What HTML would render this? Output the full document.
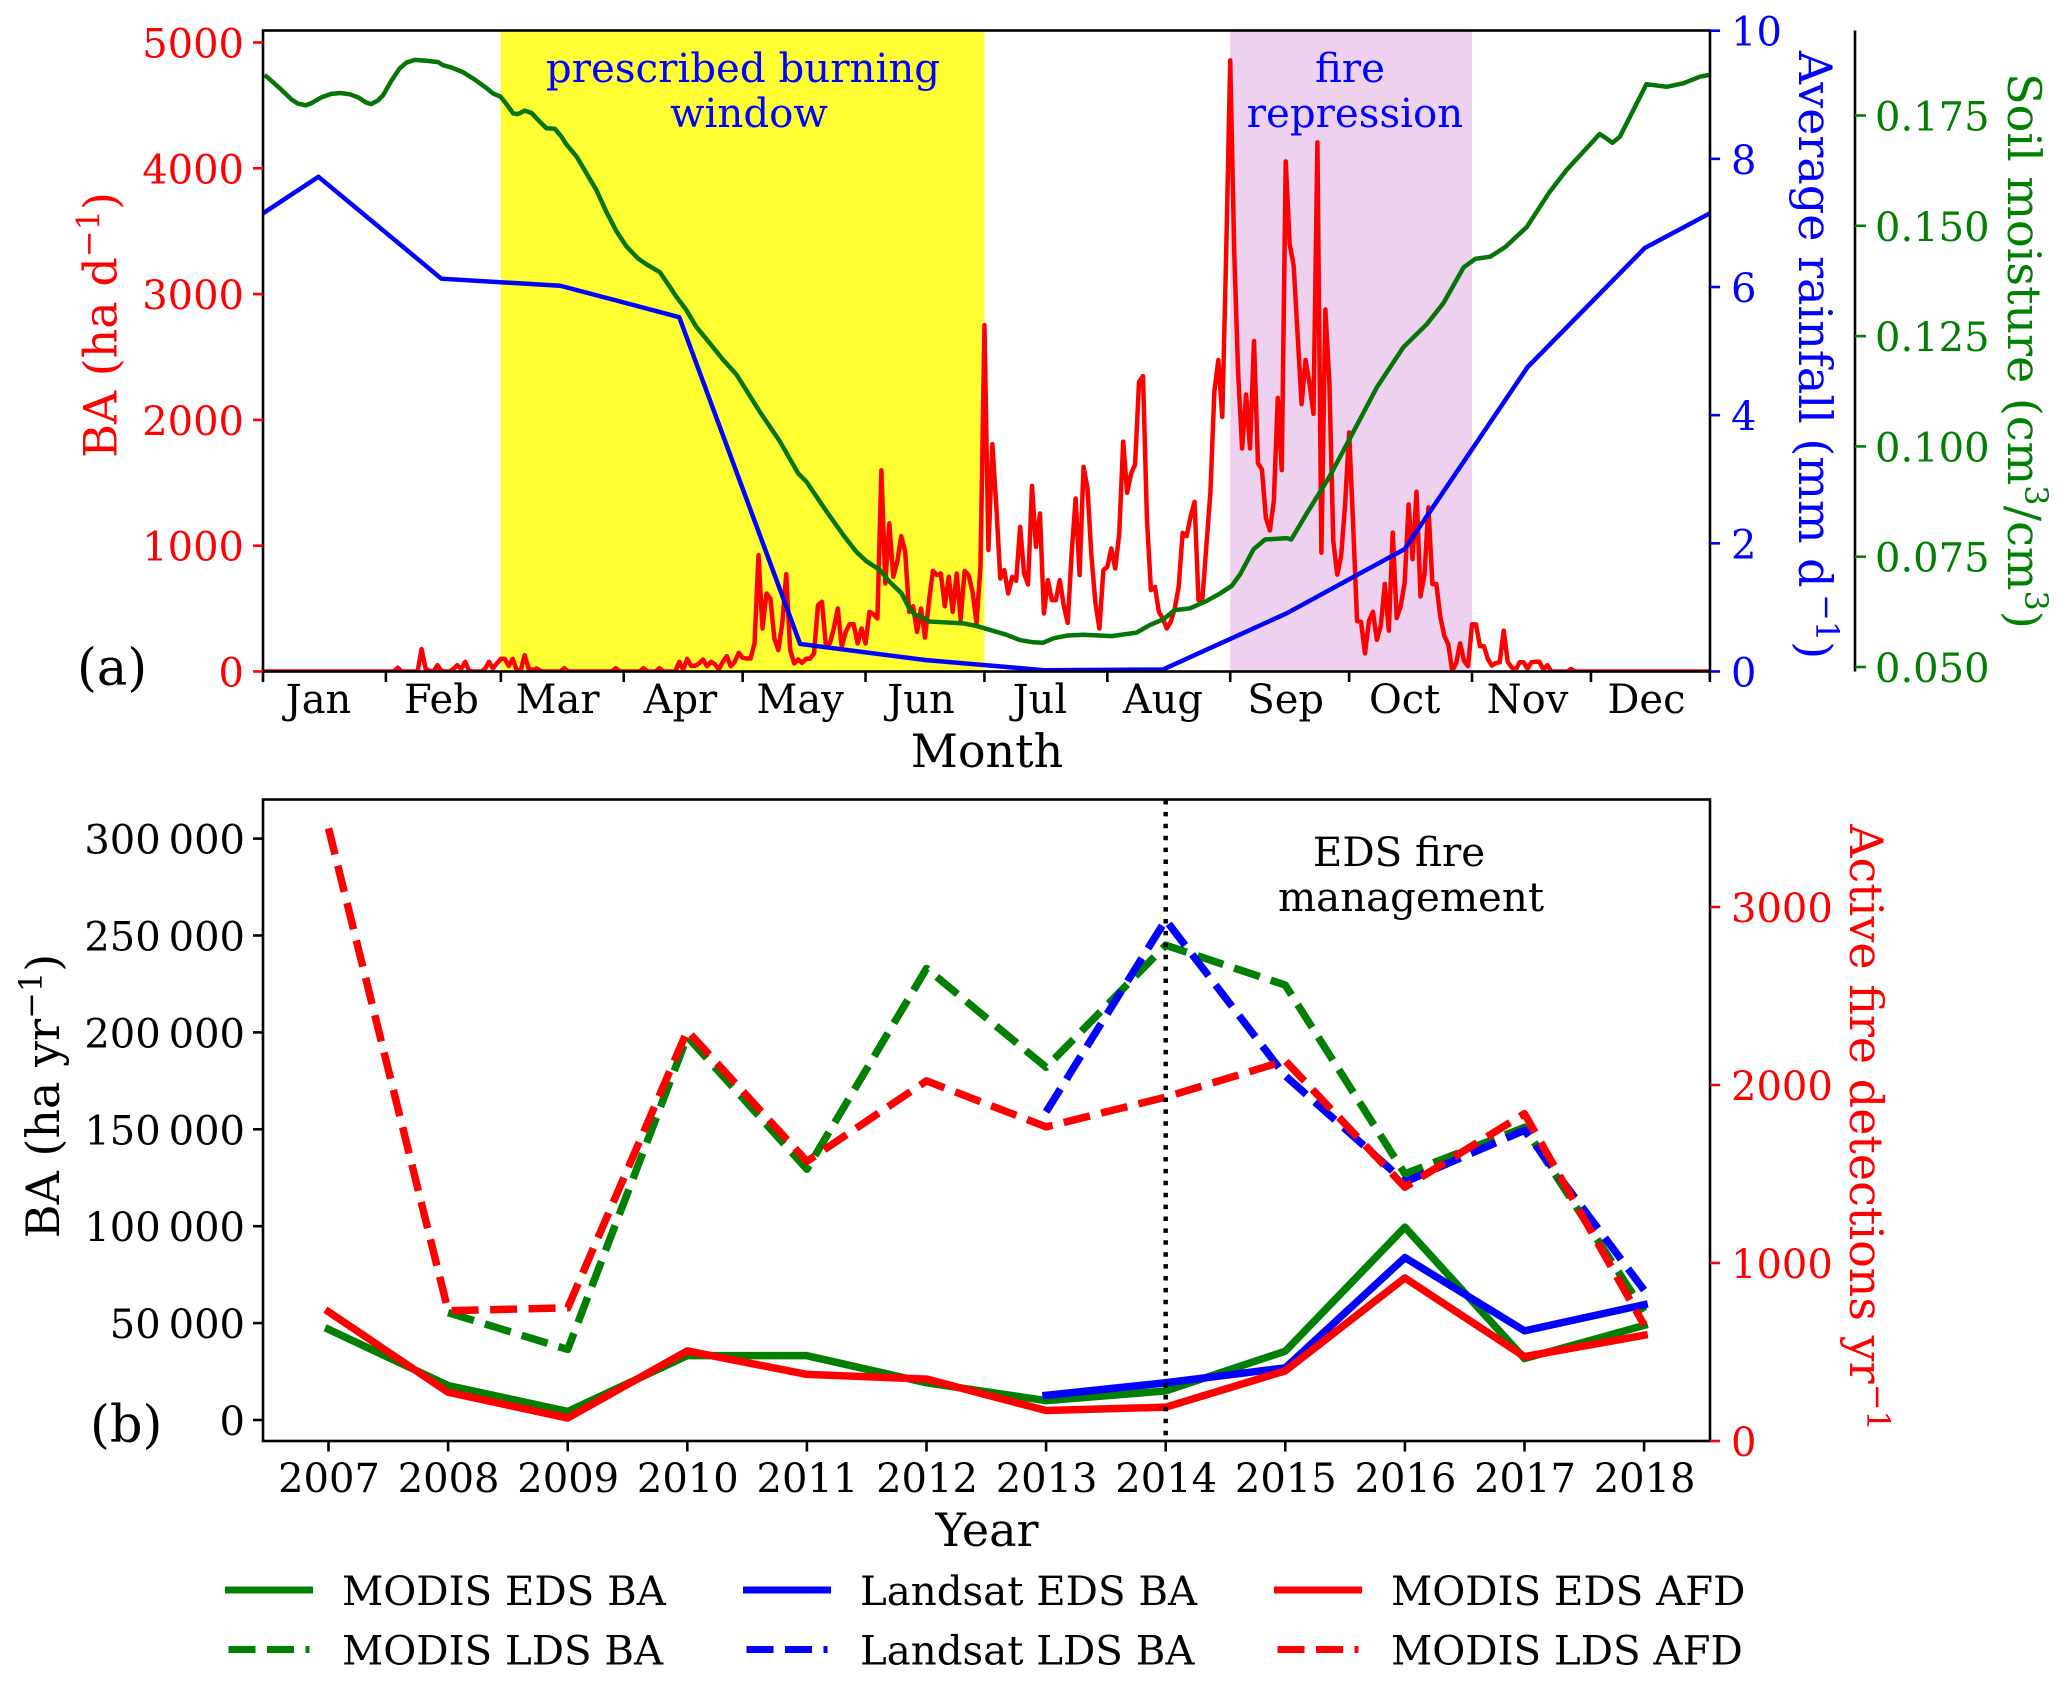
<!DOCTYPE html>
<html lang="en">
<head>
<meta charset="utf-8">
<title>Burned area, rainfall and soil moisture chart</title>
<style>
html,body{margin:0;padding:0;background:#fff}
svg{display:block}
text{font-family:"DejaVu Serif","Liberation Serif",serif}
</style>
</head>
<body>
<svg id="chart" xmlns="http://www.w3.org/2000/svg" width="2067" height="1682" viewBox="0 0 2067 1682">
<defs><clipPath id="clipA"><rect x="263" y="30.5" width="1447" height="641"/></clipPath></defs>
<rect x="0" y="0" width="2067" height="1682" fill="#fff"/>
<g id="panelA"></g>
<g id="panelB"></g>

<text x="743" y="82" font-size="40.3" fill="#0000ff" text-anchor="middle">prescribed burning</text>
<text x="749" y="127" font-size="40.3" fill="#0000ff" text-anchor="middle">window</text>
<text x="1350" y="82" font-size="40.3" fill="#0000ff" text-anchor="middle">fire</text>
<text x="1355" y="127" font-size="40.3" fill="#0000ff" text-anchor="middle">repression</text>

<text x="77" y="685" font-size="51" fill="#000">(a)</text>
<text x="90" y="1442" font-size="51" fill="#000">(b)</text>
<text x="987" y="767" font-size="46" fill="#000" text-anchor="middle">Month</text>
<text x="987" y="1546" font-size="46" fill="#000" text-anchor="middle">Year</text>

<text transform="translate(116.5,325) rotate(-90)" font-size="46" fill="#ff0000" text-anchor="middle">BA (ha d<tspan font-size="32" dy="-17">−1</tspan><tspan dy="17">)</tspan></text>
<text transform="translate(1799,355) rotate(90)" font-size="46" fill="#0000ff" text-anchor="middle">Average rainfall (mm d<tspan font-size="32" dy="-17">&#8201;−1</tspan><tspan dy="17">)</tspan></text>
<text transform="translate(2008,351) rotate(90)" font-size="46" fill="#008000" text-anchor="middle">Soil moisture (cm<tspan font-size="32" dy="-17">3</tspan><tspan dy="17">/cm</tspan><tspan font-size="32" dy="-17">3</tspan><tspan dy="17">)</tspan></text>
<text transform="translate(59,1096) rotate(-90)" font-size="46" fill="#000" text-anchor="middle">BA (ha yr<tspan font-size="32" dy="-17">−1</tspan><tspan dy="17">)</tspan></text>
<text transform="translate(1850,1127.5) rotate(90)" font-size="46" fill="#ff0000" text-anchor="middle">Active fire detections yr<tspan font-size="32" dy="-17">−1</tspan></text>

<text x="1399" y="866" font-size="40.3" fill="#000" text-anchor="middle">EDS fire</text>
<text x="1411" y="911" font-size="40.3" fill="#000" text-anchor="middle">management</text>

<g id="legend"></g>
</svg>
<script>
const monthNames = ['Jan','Feb','Mar','Apr','May','Jun','Jul','Aug','Sep','Oct','Nov','Dec'];
const monthStartDays = [0,31,60,91,121,152,182,213,244,274,305,335,365];
const monthLabelDays = [14,45,74.3,105.3,135.5,166,196,227,258,288,319,349];
const burnWindowDays = [60,182];
const repressionDays = [244,305];

const baTicks = [0,1000,2000,3000,4000,5000];
const rainTicks = [0,2,4,6,8,10];
const soilTicks = [0.050,0.075,0.100,0.125,0.150,0.175];

const dailyBA = [
0,0,0,0,0,0,0,0,0,0,
0,0,0,0,0,0,0,0,0,0,
0,0,0,0,0,0,0,0,0,0,
0,0,0,0,30,0,0,0,0,0,
178,25,5,0,50,5,0,0,20,50,
20,77,5,0,0,0,20,77,25,64,
100,100,45,100,10,5,130,25,10,25,
3,0,0,0,0,0,26,0,0,0,
0,0,0,0,0,0,0,0,0,26,
0,0,0,0,0,0,26,0,0,0,
26,0,0,0,0,77,15,100,45,45,
64,95,42,77,58,16,77,122,42,77,
148,109,103,103,223,925,342,620,580,262,
170,382,774,170,64,95,69,101,101,143,
527,554,209,223,342,501,196,315,376,376,
223,342,223,474,456,421,1600,700,1177,753,
872,1076,951,474,519,315,501,270,554,800,
766,779,519,753,474,779,413,800,766,633,
387,832,2753,965,1807,1309,739,806,620,753,
721,1150,779,692,1476,991,1256,461,726,567,
567,726,527,387,938,1375,766,1627,1455,912,
541,342,806,832,978,819,1097,1826,1420,1574,
1646,2303,2348,1203,647,673,474,421,342,395,
501,673,1102,1076,1230,1349,567,585,1004,1422,
2225,2476,2024,3346,4858,3346,2376,1773,2202,1773,
2627,1656,1606,1221,1121,1355,2175,1600,4055,3396,
3229,2677,2125,2476,2292,2048,4206,944,2878,2309,
1037,770,920,1338,1900,1171,401,395,144,401,
475,251,368,696,325,1104,425,519,703,1328,
893,1429,596,770,1305,696,696,435,284,217,
7,67,224,84,43,375,375,201,201,100,
47,67,74,325,77,33,10,74,74,23,
74,77,77,17,50,0,0,0,0,0,
20,0,0,0,0,0,0,0,0,0,
0,0,0,0,0,0,0,0,0,0,
0,0,0,0,0,0,0,0,0,0,
0,0,0,0,0,0];

const rainDays = [0,14,45,75,105,135.5,167,197,227,258.3,288,319,348.6,365];
const rainValues = [7.15,7.72,6.13,6.02,5.53,0.43,0.18,0.02,0.03,0.91,1.91,4.75,6.61,7.15];

const soilDays = [0.4,1.7,4.2,7.1,8.8,10.8,12.2,14.7,17.2,19.5,21.9,24,26.1,27.3,29,30.3,32.4,34.5,36.2,38.3,41.2,44.2,45.4,47.5,50.5,53.8,56.4,58,59.9,61.4,63.1,64.3,66,67.7,69.8,71.5,73.6,75.3,76.5,79.1,81.6,84.1,86.6,89.2,91.7,94.6,96.7,100.1,102.6,104.3,106.8,109.3,112.7,116.1,119.5,121.6,125.3,130.4,135,137.1,142.2,146.4,149.7,152.2,155.6,158.1,161.1,162.8,164.4,165.7,168.2,172.4,176.6,180,183.4,187.6,190.9,194.3,196.8,199.4,202.7,206.9,214.1,220.4,223.7,227.1,230,233.9,238.1,241.5,244.4,246.5,249.9,252.8,258.3,259.4,263.3,269.2,274.3,281,287.7,293.6,297.8,302.9,305.8,309.6,313.4,318.8,324.6,328.8,337.2,338.9,340.4,342.3,349,354.1,358.3,362.5,364.8];
const soilValues = [0.1842,0.1832,0.1812,0.1787,0.1777,0.1773,0.1778,0.1791,0.1799,0.1801,0.1798,0.1791,0.1779,0.1776,0.1784,0.1796,0.1829,0.1857,0.187,0.1876,0.1874,0.1871,0.1864,0.1859,0.1848,0.1829,0.1812,0.18,0.1793,0.1776,0.1755,0.1753,0.1761,0.1756,0.1736,0.1721,0.172,0.1702,0.1685,0.1657,0.1619,0.1581,0.1532,0.1487,0.1453,0.1426,0.1413,0.1395,0.1362,0.1339,0.1309,0.1271,0.1234,0.1196,0.1162,0.1132,0.1079,0.1011,0.0939,0.092,0.0852,0.0799,0.0761,0.074,0.072,0.0693,0.0667,0.0637,0.0618,0.0616,0.0603,0.0601,0.0599,0.0593,0.0584,0.0573,0.0561,0.0556,0.0555,0.0565,0.0571,0.0573,0.057,0.0578,0.0595,0.0608,0.0629,0.0633,0.065,0.0667,0.0684,0.071,0.0767,0.0789,0.0792,0.0789,0.0848,0.0934,0.102,0.1134,0.1225,0.1277,0.1325,0.1406,0.1425,0.143,0.1452,0.1497,0.1577,0.1626,0.1708,0.1698,0.1688,0.1702,0.1821,0.1815,0.1823,0.1838,0.1842];

const years = [2007,2008,2009,2010,2011,2012,2013,2014,2015,2016,2017,2018];
const baYearTicks = [0,50000,100000,150000,200000,250000,300000];
const baYearTickLabels = ['0','50\u2009000','100\u2009000','150\u2009000','200\u2009000','250\u2009000','300\u2009000'];
const afdTicks = [0,1000,2000,3000];
const managementYear = 2014;

const modisEdsBA = [46800,17800,4400,33200,33200,19200,10000,15000,35500,99500,31700,48800];
const modisLdsBA = [null,55400,36400,197800,129400,233000,182000,245000,224400,127000,151000,56000];
const landsatEdsBA = [null,null,null,null,null,null,12700,19200,26900,83800,46000,59500];
const landsatLdsBA = [null,null,null,null,null,null,159000,258000,177600,122800,149500,67000];
const modisEdsAFD = [726,274,129,506,374,348,171,190,394,916,474,594];
const modisLdsAFD = [3442,732,748,2305,1571,2023,1765,1932,2136,1426,1839,652];

const legendColumns = ['MODIS','Landsat','MODIS'];
const legendMetrics = ['BA','BA','AFD'];
const legendColors = ['#008000','#0000ff','#ff0000'];

const NS = 'http://www.w3.org/2000/svg';
const xDay = d => 263 + d * 3.964;
const yBA = v => 671.5 - v * 0.1258;
const yRain = v => 671.5 - v * 64.08;
const ySoil = v => 667 - (v - 0.05) * 4412;
const xYear = y => 328.5 + (y - 2007) * 119.6;
const yBaYear = v => 1420 - v * 0.001938;
const yAfd = v => 1441 - v * 0.178;

function mk(tag, parent, attrs){
  const e = document.createElementNS(NS, tag);
  for (const k in attrs) e.setAttribute(k, attrs[k]);
  parent.appendChild(e);
  return e;
}
function poly(parent, xs, ys, color, width, extra){
  const pts = [];
  xs.forEach((x,i)=>{ if (ys[i] !== null) pts.push(x.toFixed(2)+','+ys[i].toFixed(2)); });
  return mk('polyline', parent, Object.assign({points:pts.join(' '),fill:'none',stroke:color,'stroke-width':width,'stroke-linejoin':'round'}, extra||{}));
}
function tickText(parent, x, y, s, color, anchor, size){
  const t = mk('text', parent, {x:x, y:y, fill:color, 'text-anchor':anchor, 'font-size':size||40});
  t.textContent = s;
  return t;
}

const A = document.getElementById('panelA');
const B = document.getElementById('panelB');

// Panel A shading
const yellowBand = mk('rect', A, {x:xDay(burnWindowDays[0]), y:30.5, width:xDay(burnWindowDays[1])-xDay(burnWindowDays[0]), height:641, fill:'#ffff33'});


const purpleBand = mk('rect', A, {x:xDay(repressionDays[0]), y:30.5, width:xDay(repressionDays[1])-xDay(repressionDays[0]), height:641, fill:'#eed1ee'});



// Panel A series
const clipGroup = mk('g', A, {'clip-path':'url(#clipA)'});


const baLine = poly(clipGroup, dailyBA.map((v,i)=>xDay(i)), dailyBA.map(yBA), '#ff0000', 4.5);


const rainLine = poly(clipGroup, rainDays.map(xDay), rainValues.map(yRain), '#0000ff', 4.5);


const soilLine = poly(clipGroup, soilDays.map(xDay), soilValues.map(ySoil), '#057505', 4.5);



// Panel A frame
const frameA = mk('rect', A, {x:263, y:30.5, width:1447, height:641, fill:'none', stroke:'#000', 'stroke-width':2.6});


const soilSpine = mk('line', A, {x1:1855, x2:1855, y1:30.5, y2:671.5, stroke:'#000', 'stroke-width':2.6});



monthStartDays.forEach(d=>{
  const tk = mk('line', A, {x1:xDay(d), x2:xDay(d), y1:671.5, y2:682, stroke:'#000', 'stroke-width':2.6});
  
  
});
monthNames.forEach((m,i)=>{
  const t = tickText(A, xDay(monthLabelDays[i]), 713, m, '#000', 'middle');
  
  
});
baTicks.forEach(v=>{
  const tk = mk('line', A, {x1:253, x2:263, y1:yBA(v), y2:yBA(v), stroke:'#ff0000', 'stroke-width':2.6});
  
  
  const t = tickText(A, 244, yBA(v)+15, String(v), '#ff0000', 'end');
  
  
});
rainTicks.forEach(v=>{
  const tk = mk('line', A, {x1:1710, x2:1720, y1:yRain(v), y2:yRain(v), stroke:'#0000ff', 'stroke-width':2.6});
  
  
  const t = tickText(A, 1731, yRain(v)+15, String(v), '#0000ff', 'start');
  
  
});
soilTicks.forEach(v=>{
  const tk = mk('line', A, {x1:1855, x2:1866, y1:ySoil(v), y2:ySoil(v), stroke:'#008000', 'stroke-width':2.6});
  
  
  const t = tickText(A, 1875, ySoil(v)+15, v.toFixed(3), '#008000', 'start');
  
  
});

// Panel B series
const xsB = years.map(xYear);
const dashAttrs = {'stroke-dasharray':'27 11.5'};
const capAttrs = {'stroke-linecap':'square'};
const l1 = poly(B, xsB, modisEdsBA.map(v=>v===null?null:yBaYear(v)), '#008000', 7.5, capAttrs);


const l2 = poly(B, xsB, modisLdsBA.map(v=>v===null?null:yBaYear(v)), '#008000', 7.5, dashAttrs);


const l3 = poly(B, xsB, landsatEdsBA.map(v=>v===null?null:yBaYear(v)), '#0000ff', 7.5, capAttrs);


const l4 = poly(B, xsB, landsatLdsBA.map(v=>v===null?null:yBaYear(v)), '#0000ff', 7.5, dashAttrs);


const l5 = poly(B, xsB, modisEdsAFD.map(yAfd), '#ff0000', 7.5, capAttrs);


const l6 = poly(B, xsB, modisLdsAFD.map(yAfd), '#ff0000', 7.5, dashAttrs);



const mgmt = mk('line', B, {x1:xYear(managementYear), x2:xYear(managementYear), y1:800, y2:1441, stroke:'#000', 'stroke-width':4.5, 'stroke-dasharray':'4.5 7.4'});



const frameB = mk('rect', B, {x:263, y:799.5, width:1447, height:641.5, fill:'none', stroke:'#000', 'stroke-width':2.6});



years.forEach(y=>{
  const tk = mk('line', B, {x1:xYear(y), x2:xYear(y), y1:1441, y2:1451.5, stroke:'#000', 'stroke-width':2.6});
  
  
  const t = tickText(B, xYear(y)+0.5, 1492, String(y), '#000', 'middle');
  
  
});
baYearTicks.forEach((v,i)=>{
  const tk = mk('line', B, {x1:253, x2:263, y1:yBaYear(v), y2:yBaYear(v), stroke:'#000', 'stroke-width':2.6});
  
  
  const t = tickText(B, 245, yBaYear(v)+15, baYearTickLabels[i], '#000', 'end');
  
  
});
afdTicks.forEach(v=>{
  const tk = mk('line', B, {x1:1710, x2:1720, y1:yAfd(v), y2:yAfd(v), stroke:'#ff0000', 'stroke-width':2.6});
  
  
  const t = tickText(B, 1731, yAfd(v)+15, String(v), '#ff0000', 'start');
  
  
});

// Legend
const L = document.getElementById('legend');
const legendLineStart = [228.5, 746.5, 1277.5];
const legendTextStart = [342, 860, 1391];
[0,1,2].forEach(c=>{
  const ls = mk('line', L, {x1:legendLineStart[c], x2:legendLineStart[c]+81, y1:1590, y2:1590, stroke:legendColors[c], 'stroke-width':7, 'stroke-linecap':'square'});
  
  
  const ts = tickText(L, legendTextStart[c], 1605, legendColumns[c]+' EDS '+legendMetrics[c], '#000', 'start', 40.3);
  
  
  const ld = mk('line', L, {x1:legendLineStart[c], x2:legendLineStart[c]+81, y1:1649.5, y2:1649.5, stroke:legendColors[c], 'stroke-width':7, 'stroke-dasharray':'27 11.5'});
  
  
  const td = tickText(L, legendTextStart[c], 1664.5, legendColumns[c]+' LDS '+legendMetrics[c], '#000', 'start', 40.3);
  
  
});
</script>
</body>
</html>
